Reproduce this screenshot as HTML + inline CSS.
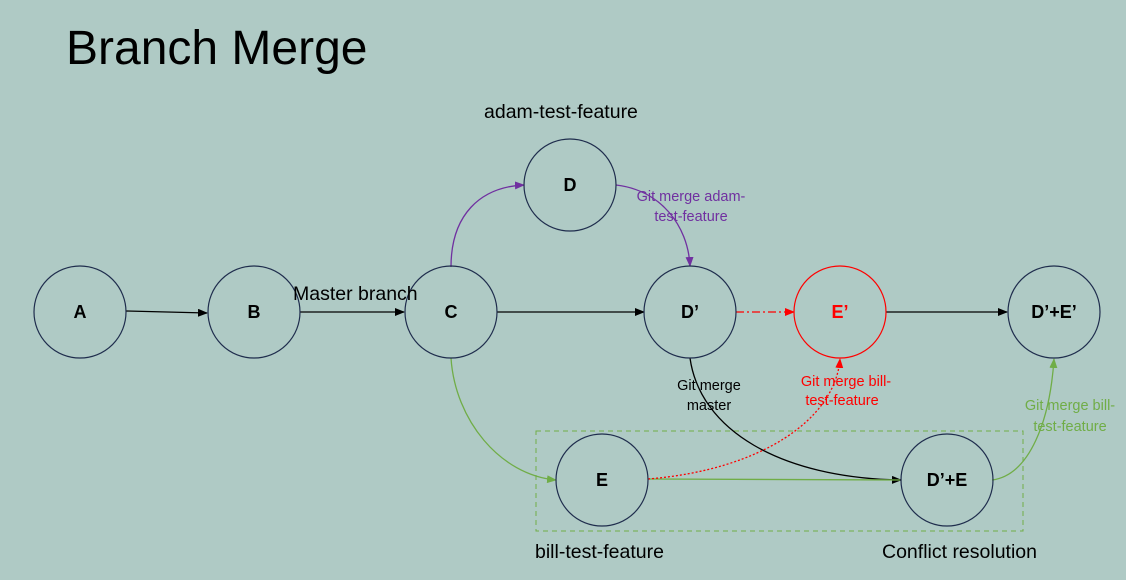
<!DOCTYPE html>
<html><head><meta charset="utf-8"><style>
body{margin:0;background:#afcac5;}
svg{display:block;font-family:"Liberation Sans",sans-serif;}
</style></head><body>
<svg width="1126" height="580" viewBox="0 0 1126 580">
<defs>
<marker id="ak" markerWidth="10" markerHeight="8" refX="9" refY="4" orient="auto" markerUnits="userSpaceOnUse"><path d="M0,0 L10,4 L0,8z" fill="#000"/></marker>
<marker id="ap" markerWidth="10" markerHeight="8" refX="9" refY="4" orient="auto" markerUnits="userSpaceOnUse"><path d="M0,0 L10,4 L0,8z" fill="#7030a0"/></marker>
<marker id="ag" markerWidth="10" markerHeight="8" refX="9" refY="4" orient="auto" markerUnits="userSpaceOnUse"><path d="M0,0 L10,4 L0,8z" fill="#70ad47"/></marker>
<marker id="ar" markerWidth="10" markerHeight="8" refX="9" refY="4" orient="auto" markerUnits="userSpaceOnUse"><path d="M0,0 L10,4 L0,8z" fill="#ff0000"/></marker>
</defs>
<rect width="1126" height="580" fill="#afcac5"/>
<text x="66" y="64" font-size="48">Branch Merge</text>

<rect x="536" y="431" width="487" height="100" fill="none" stroke="#70ad47" stroke-dasharray="5,4" stroke-width="1"/>

<g stroke-width="1.3" fill="none">
<line x1="126" y1="311" x2="207" y2="313" stroke="#000" marker-end="url(#ak)"/>
<line x1="300" y1="312" x2="404" y2="312" stroke="#000" marker-end="url(#ak)"/>
<line x1="497" y1="312" x2="644" y2="312" stroke="#000" marker-end="url(#ak)"/>
<line x1="736" y1="312" x2="794" y2="312" stroke="#ff0000" stroke-dasharray="8,3,2,3" marker-end="url(#ar)"/>
<line x1="886" y1="312" x2="1007" y2="312" stroke="#000" marker-end="url(#ak)"/>
<path d="M451,267 C451,215 480,187 524,185" stroke="#7030a0" marker-end="url(#ap)"/>
<path d="M616,185 C660,190 688,225 690,266" stroke="#7030a0" marker-end="url(#ap)"/>
<path d="M451,358 C455,420 500,475 556,480" stroke="#70ad47" marker-end="url(#ag)"/>
<path d="M690,358 C700,430 780,478 901,480" stroke="#000" marker-end="url(#ak)"/>
<line x1="648" y1="479" x2="900" y2="480" stroke="#70ad47"/>
<path d="M648,479 C760,470 835,420 840,359" stroke="#ff0000" stroke-dasharray="2,2" marker-end="url(#ar)"/>
<path d="M992,480 C1030,475 1050,420 1054,359" stroke="#70ad47" marker-end="url(#ag)"/>
</g>

<g stroke="#1f2d4d" stroke-width="1.2" fill="none">
<circle cx="80" cy="312" r="46"/>
<circle cx="254" cy="312" r="46"/>
<circle cx="451" cy="312" r="46"/>
<circle cx="570" cy="185" r="46"/>
<circle cx="690" cy="312" r="46"/>
<circle cx="1054" cy="312" r="46"/>
<circle cx="602" cy="480" r="46"/>
<circle cx="947" cy="480" r="46"/>
</g>
<circle cx="840" cy="312" r="46" stroke="#ff0000" stroke-width="1.2" fill="none"/>

<g font-size="18" font-weight="bold" text-anchor="middle">
<text x="80" y="318">A</text>
<text x="254" y="318">B</text>
<text x="451" y="318">C</text>
<text x="570" y="191">D</text>
<text x="690" y="318">D’</text>
<text x="840" y="318" fill="#ff0000">E’</text>
<text x="1054" y="318">D’+E’</text>
<text x="602" y="486">E</text>
<text x="947" y="486">D’+E</text>
</g>

<g font-size="19.5">
<text x="484" y="118">adam-test-feature</text>
<text x="293" y="300">Master branch</text>
<text x="535" y="558">bill-test-feature</text>
<text x="882" y="558">Conflict resolution</text>
</g>
<g font-size="14.5" text-anchor="middle">
<text x="691" y="201" fill="#7030a0">Git merge adam-</text>
<text x="691" y="221" fill="#7030a0">test-feature</text>
<text x="709" y="390">Git merge</text>
<text x="709" y="410">master</text>
<text x="846" y="386" fill="#ff0000">Git merge bill-</text>
<text x="842" y="405" fill="#ff0000">test-feature</text>
<text x="1070" y="410" fill="#70ad47">Git merge bill-</text>
<text x="1070" y="431" fill="#70ad47">test-feature</text>
</g>
</svg>
</body></html>
